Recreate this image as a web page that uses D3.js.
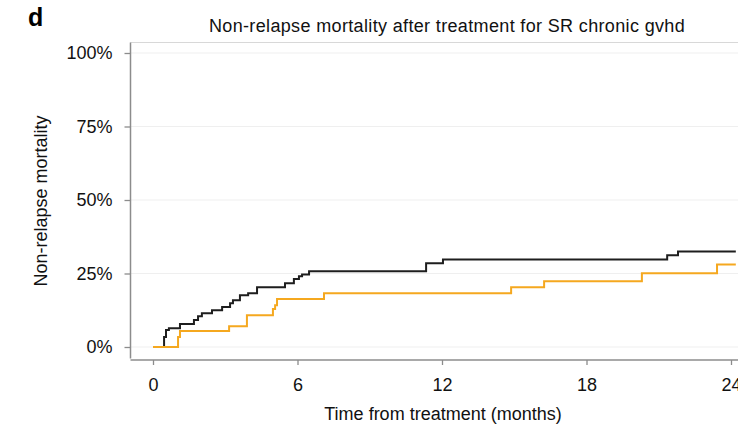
<!DOCTYPE html>
<html>
<head>
<meta charset="utf-8">
<script src="https://cdn.jsdelivr.net/npm/d3@7"></script>
<style>
  html, body { margin: 0; padding: 0; background: #fff; }
  svg { display: block; font-family: "Liberation Sans", Arial, Helvetica, sans-serif; }
</style>
</head>
<body>
<svg id="chart" width="738" height="431"></svg>
<script>
// ---- data ----
const title = "Non-relapse mortality after treatment for SR chronic gvhd";
const panelLabel = "d";
const xTitle = "Time from treatment (months)";
const yTitle = "Non-relapse mortality";
const xTicks = [0, 6, 12, 18, 24];
const yTicks = [0, 25, 50, 75, 100];

// series 1 (black)
const blackTime = [0, 0.46, 0.54, 0.66, 1.12, 1.70, 1.87, 2.03, 2.45, 2.87, 3.20, 3.32, 3.61, 3.95, 4.32, 5.48, 5.85, 6.06, 6.19, 6.48, 11.34, 12.04, 21.35, 21.80, 24.2];
const blackNRM  = [0, 3.4, 5.8, 6.4, 7.8, 9.2, 10.5, 11.5, 12.5, 13.6, 14.9, 15.9, 17.6, 18.3, 20.3, 21.7, 23.1, 24.1, 24.7, 25.8, 28.5, 29.8, 31.2, 32.5, 32.5];

// series 2 (orange)
const orangeTime = [0, 1.04, 1.12, 3.16, 3.90, 4.98, 5.07, 5.15, 7.10, 14.87, 16.24, 20.30, 23.42, 24.2];
const orangeNRM  = [0, 3.4, 5.4, 7.1, 10.8, 12.9, 14.2, 16.3, 18.3, 20.3, 22.4, 25.1, 28.1, 28.1];

// ---- chart ----
const svg = d3.select("#chart");
const x = d3.scaleLinear().domain([0, 24]).range([153, 731]);
const y = d3.scaleLinear().domain([0, 100]).range([347, 53]);
const plotLeft = 130.5, plotTop = 42.5, plotBottom = 358.5, plotRight = 760;
const txt = "#111";

// gridlines
svg.append("g").selectAll("line").data(yTicks).join("line")
  .attr("x1", plotLeft).attr("x2", plotRight)
  .attr("y1", d => y(d)).attr("y2", d => y(d))
  .attr("stroke", "#efefef").attr("stroke-width", 1.2);

// top border
svg.append("line").attr("x1", plotLeft).attr("x2", plotRight)
  .attr("y1", plotTop).attr("y2", plotTop)
  .attr("stroke", "#d8d8d8").attr("stroke-width", 1.2);

// y axis
const yAxis = d3.axisLeft(y).tickValues(yTicks).tickFormat(d => d + "%").tickSize(6).tickPadding(12);
const gy = svg.append("g").attr("transform", `translate(${plotLeft},0)`).call(yAxis);
gy.select(".domain").remove();
gy.selectAll(".tick line").attr("stroke", "#8c8c8c").attr("stroke-width", 1.3);
gy.selectAll(".tick text").attr("font-size", 18).attr("fill", txt).attr("font-family", "Liberation Sans, Arial, sans-serif");
svg.append("line").attr("x1", plotLeft).attr("x2", plotLeft).attr("y1", plotTop).attr("y2", plotBottom)
  .attr("stroke", "#8c8c8c").attr("stroke-width", 1.5);

// x axis
const xAxis = d3.axisBottom(x).tickValues(xTicks).tickFormat(d3.format("d")).tickSize(5).tickPadding(13);
const gx = svg.append("g").attr("transform", `translate(0,${plotBottom + 1.5})`).call(xAxis);
gx.select(".domain").remove();
gx.selectAll(".tick line").attr("stroke", "#8c8c8c").attr("stroke-width", 1.3);
gx.selectAll(".tick text").attr("font-size", 18).attr("fill", txt).attr("font-family", "Liberation Sans, Arial, sans-serif");
svg.append("line").attr("x1", plotLeft).attr("x2", plotRight).attr("y1", plotBottom + 1.5).attr("y2", plotBottom + 1.5)
  .attr("stroke", "#8c8c8c").attr("stroke-width", 1.5);

// lines
const line = d3.line().x(d => x(d[0])).y(d => y(d[1])).curve(d3.curveStepAfter);
svg.append("path").datum(d3.zip(blackTime, blackNRM)).attr("d", line)
  .attr("fill", "none").attr("stroke", "#1e1e1e").attr("stroke-width", 2);
svg.append("path").datum(d3.zip(orangeTime, orangeNRM)).attr("d", line)
  .attr("fill", "none").attr("stroke", "#f5a81f").attr("stroke-width", 2);

// texts
svg.append("text").attr("x", 447).attr("y", 31.5).attr("text-anchor", "middle")
  .attr("font-size", 18).attr("letter-spacing", 0.35).attr("fill", txt).text(title);
svg.append("text").attr("x", 28).attr("y", 26).attr("font-size", 25).attr("font-weight", "bold")
  .attr("fill", "#000").text(panelLabel);
svg.append("text").attr("x", 443).attr("y", 420).attr("text-anchor", "middle")
  .attr("font-size", 18).attr("fill", txt).text(xTitle);
svg.append("text").attr("transform", "translate(47,201) rotate(-90)").attr("text-anchor", "middle")
  .attr("font-size", 18).attr("fill", txt).text(yTitle);
</script>
</body>
</html>
